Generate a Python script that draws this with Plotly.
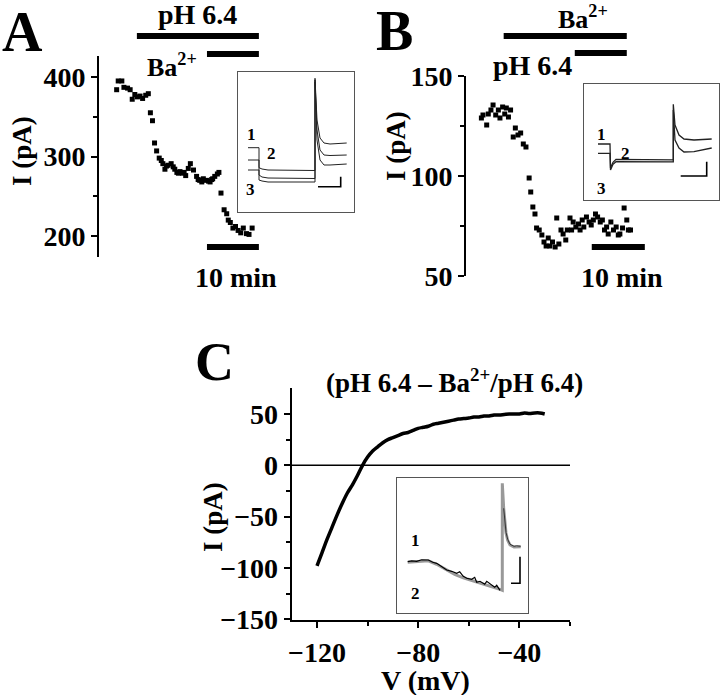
import plotly.graph_objects as go

W, H = 720, 695
FONT = "Liberation Serif"

# ---- panel A: time course, current at pH 6.4 then Ba2+ ----
a_t = [0.5, 0.8, 1.5, 1.9, 2.6, 3.1, 3.5, 4.0, 4.5, 5.0, 5.5, 6.1, 6.6, 7.0, 7.4, 7.8, 8.2, 8.7, 9.1, 9.4,
       9.8, 10.1, 10.4, 11.0, 11.4, 11.7, 12.1, 12.4, 12.7, 13.2, 13.5, 13.8, 14.3, 14.7, 15.3, 15.9, 16.2, 16.5, 16.9, 17.2,
       17.8, 18.2, 18.5, 18.8, 19.0, 19.4, 19.9, 20.2, 20.6, 21.2, 21.7, 22.0, 22.4, 22.9, 23.4, 23.9, 24.4, 24.9, 25.5, 26.0,
       26.6]
a_i = [384, 395, 395, 387, 386, 384, 372, 378, 375, 376, 373, 377, 379, 355, 345, 317, 307, 298, 295, 291,
       284, 288, 289, 291, 287, 284, 280, 279, 281, 279, 280, 276, 285, 291, 283, 275, 271, 270, 268, 272,
       270, 269, 268, 271, 272, 275, 278, 280, 254, 233, 228, 220, 217, 210, 212, 207, 204, 210, 203, 202,
       210]
a_ph = [4.4, 27.9]     # pH 6.4 application (min)
a_ba = [17.9, 27.9]    # Ba2+ application (min)
a_scale = [17.9, 27.9]  # 10 min

# ---- panel B: Ba2+ first, then pH 6.4 ----
b_t = [0.1, 0.4, 1.1, 1.4, 1.9, 2.3, 2.8, 3.3, 3.6, 4.1, 4.5, 4.8, 5.2, 5.6, 6.1, 6.5, 7.0, 7.5, 8.0, 8.5,
       9.1, 9.4, 9.8, 10.2, 10.5, 11.0, 11.5, 11.9, 12.3, 12.7, 13.0, 13.5, 14.0, 14.3, 14.7, 15.1, 15.5, 16.0, 16.3, 16.8,
       17.1, 17.4, 17.9, 18.4, 18.7, 19.1, 19.4, 19.9, 20.4, 20.8, 21.2, 21.6, 22.0, 22.5, 22.9, 23.3, 23.7, 24.0, 24.5, 25.0,
       25.5, 25.9, 26.2, 26.7, 27.0, 27.5, 27.8, 28.2]
b_i = [129, 130.5, 125.5, 131, 133, 135.5, 130.5, 133, 129, 134.5, 131, 134, 129.5, 133, 119.5, 124, 120.5, 121.5, 116, 114.5,
       99, 92, 84.5, 81, 74, 73, 70.5, 67, 65, 69, 65, 67, 64.5, 79, 66, 73, 71, 68, 73, 79,
       73, 77, 74.5, 76, 73, 78, 74.5, 79.5, 77, 75.5, 78, 81, 79.5, 77, 78, 73, 74.5, 71, 77, 73,
       74.5, 70.5, 71, 74, 84, 78, 73, 73]
b_ba = [4.3, 27.5]
b_ph = [17.7, 27.5]
b_scale = [20.9, 30.9]

# ---- panel C: difference I-V (pH 6.4 - Ba2+/pH 6.4) ----
c_v = [-120, -118, -116, -114, -112, -110, -108, -106, -104, -102, -100, -98, -96, -94, -92, -90,
       -88, -86, -84, -82, -80, -78, -76, -74, -72, -70, -68, -66, -64, -62, -60, -58,
       -56, -54, -52, -50, -48, -46, -44, -42, -40, -38, -36, -34, -32, -30]
c_i = [-98, -85, -72, -60, -48, -37, -27, -19, -10, 0, 8, 14, 18, 22, 25, 27,
       29, 31, 32, 34, 36, 37, 38, 40, 41, 42, 43, 44, 45, 45.5, 46, 47,
       47, 48, 48, 49, 49, 49.5, 50, 50, 50, 51, 50.5, 51, 51, 50]

# ---- inset traces (arbitrary units) ----
ia_x = [10, 21, 21, 24, 30, 77, 77, 79, 82, 86, 92, 108.7]
ia_1 = [-75.7, -75.7, -95.7, -97, -98, -98.5, -6.3, -48, -66, -71, -72, -71]
ia_2 = [-88, -88, -103, -105, -106, -106.5, -8, -58, -78, -83, -83.5, -83]
ia_3 = [-98, -98, -108, -109, -110, -110, -10, -68, -88, -93, -93, -92]
ia_bar_x = [80, 102.7, 102.7]
ia_bar_y = [-114.7, -114.7, -104.7]

ib_x = [14, 26, 26.5, 29, 32, 60, 89.3, 89.3, 91, 95, 100, 110, 127.7]
ib_1 = [-59.7, -59.7, -83.7, -78, -75, -75, -75.5, -20, -40.7, -50.7, -54.7, -55.7, -54.7]
ib_2 = [-69, -69, -85.7, -80, -77.4, -77.4, -77.6, -25.7, -55.7, -63.7, -67.7, -67.4, -63.7]
ib_bar_x = [96.7, 122.7, 122.7]
ib_bar_y = [-91.7, -91.7, -77.4]

ic_gx = [11, 20, 31.6, 40, 50, 58, 66.6, 75, 83.3, 93, 103.3, 105.6, 105.6, 107, 109.3, 111, 113.3, 117.3, 124]
ic_gy = [-84, -83.5, -82.5, -86, -92, -96, -99.5, -102, -105, -108, -111, -112, -5, -30, -54.7, -62, -66.7, -68.7, -68.4]
ic_kx = [11, 15, 20, 25, 31.6, 36, 40, 45, 50, 55, 60, 63, 66.6, 70, 75, 78, 80, 83.3, 88, 90, 93, 98, 100, 103.3]
ic_ky = [-83.4, -82.5, -83, -81.5, -81.7, -84, -85, -88, -91.7, -93, -95, -93.5, -98, -100, -101, -99, -104, -103, -106, -103,
         -105, -109, -107, -112]
ic_tx = [107, 109.3, 111, 113.3, 117.3, 120, 124]
ic_ty = [-30, -54, -61, -66, -68, -67.5, -68]
ic_bar_x = [114.3, 123.3, 123.3]
ic_bar_y = [-105, -105, -78.4]


def xd(x0, x1):
    return [x0 / W, x1 / W]


def yd(top, bottom):
    return [1 - bottom / H, 1 - top / H]


def px(x):
    return x / W


def py(y):
    return 1 - y / H


tick_font = dict(family=FONT, size=28, color="black", weight="bold")

fig = go.Figure()
sq = dict(symbol="square", size=5, color="black", line=dict(width=0))
fig.add_trace(go.Scatter(x=a_t, y=a_i, mode="markers", marker=sq, xaxis="x", yaxis="y"))
fig.add_trace(go.Scatter(x=b_t, y=b_i, mode="markers", marker=sq, xaxis="x2", yaxis="y2"))
fig.add_trace(go.Scatter(x=c_v, y=c_i, mode="lines", line=dict(color="black", width=3.5, shape="spline"),
                         xaxis="x3", yaxis="y3"))

thin = dict(color="#222", width=1)
for tr in [ia_1, ia_2, ia_3]:
    fig.add_trace(go.Scatter(x=ia_x, y=tr, mode="lines", line=thin, xaxis="x4", yaxis="y4"))
fig.add_trace(go.Scatter(x=ia_bar_x, y=ia_bar_y, mode="lines", line=dict(color="black", width=1.6), xaxis="x4", yaxis="y4"))
for tr in [ib_1, ib_2]:
    fig.add_trace(go.Scatter(x=ib_x, y=tr, mode="lines", line=dict(color="#222", width=1.3), xaxis="x5", yaxis="y5"))
fig.add_trace(go.Scatter(x=ib_bar_x, y=ib_bar_y, mode="lines", line=dict(color="black", width=1.6), xaxis="x5", yaxis="y5"))
fig.add_trace(go.Scatter(x=ic_gx, y=ic_gy, mode="lines", line=dict(color="#999", width=3), xaxis="x6", yaxis="y6"))
fig.add_trace(go.Scatter(x=ic_kx, y=ic_ky, mode="lines", line=dict(color="black", width=1.2), xaxis="x6", yaxis="y6"))
fig.add_trace(go.Scatter(x=ic_tx, y=ic_ty, mode="lines", line=dict(color="#333", width=1), xaxis="x6", yaxis="y6"))
fig.add_trace(go.Scatter(x=ic_bar_x, y=ic_bar_y, mode="lines", line=dict(color="black", width=1.6), xaxis="x6", yaxis="y6"))

yax = dict(showline=True, linecolor="black", linewidth=2, ticks="outside", ticklen=6, tickwidth=2,
           tickcolor="black", showgrid=False, zeroline=False, tickfont=tick_font, automargin=False)
inset = dict(showline=True, mirror=True, linecolor="#555", linewidth=1.2, showticklabels=False,
             ticks="", showgrid=False, zeroline=False, automargin=False)

fig.update_layout(
    template="none",
    width=W, height=H, margin=dict(l=0, r=0, t=0, b=0, pad=0),
    paper_bgcolor="white", plot_bgcolor="rgba(0,0,0,0)", showlegend=False,
    xaxis=dict(domain=xd(99, 262), range=[-2.9, 28.5], visible=False),
    yaxis=dict(domain=yd(56, 257), range=[173.6, 426.4], anchor="x", tickvals=[200, 300, 400],
               minor=dict(tickvals=[250, 350], ticks="outside", ticklen=4, tickwidth=2), **yax),
    xaxis2=dict(domain=xd(466, 648), range=[-2.8, 31.5], visible=False, anchor="y2"),
    yaxis2=dict(domain=yd(76, 276), range=[50, 150], anchor="x2", tickvals=[50, 100, 150],
                minor=dict(tickvals=[75, 125], ticks="outside", ticklen=4, tickwidth=2), **yax),
    xaxis3=dict(domain=xd(291.7, 570), range=[-130, -20], anchor="y3", tickvals=[-120, -80, -40],
                minor=dict(tickvals=[-100, -60, -20], ticks="outside", ticklen=4, tickwidth=2), **yax),
    yaxis3=dict(domain=yd(388, 620), range=[-150.7, 75.3], anchor="x3", tickvals=[-150, -100, -50, 0, 50],
                minor=dict(tickvals=[-125, -75, -25, 25], ticks="outside", ticklen=4, tickwidth=2), **yax),
    xaxis4=dict(domain=xd(238, 354), range=[0, 116], anchor="y4", **inset),
    yaxis4=dict(domain=yd(72, 212), range=[-140, 0], anchor="x4", **inset),
    xaxis5=dict(domain=xd(584, 719), range=[0, 135], anchor="y5", **inset),
    yaxis5=dict(domain=yd(84.3, 200), range=[-115.7, 0], anchor="x5", **inset),
    xaxis6=dict(domain=xd(396.7, 528.3), range=[0, 131.6], anchor="y6", **inset),
    yaxis6=dict(domain=yd(478.3, 613.3), range=[-135, 0], anchor="x6", **inset),
)

# zero line in panel C
fig.add_shape(type="line", xref="x3 domain", yref="y3", x0=0, x1=1, y0=0, y1=0,
              line=dict(color="black", width=1.6))

# application bars and time scale bars (in minutes)
bars = [("x", a_ph, 36), ("x", a_ba, 54), ("x", a_scale, 247),
        ("x2", b_ba, 36), ("x2", b_ph, 53), ("x2", b_scale, 247)]
for xr, span, ypix in bars:
    fig.add_shape(type="line", xref=xr, yref="paper", x0=span[0], x1=span[1], y0=py(ypix), y1=py(ypix),
                  line=dict(color="black", width=6))


def txt(x, y, s, size=28, angle=0, xref="paper", yref="paper"):
    if xref == "paper":
        x, y = px(x), py(y)
    fig.add_annotation(x=x, y=y, xref=xref, yref=yref, text=s, showarrow=False, textangle=angle,
                       xanchor="center", yanchor="middle",
                       font=dict(family=FONT, size=size, color="black", weight="bold"))


txt(22, 32, "A", 56)
txt(394, 31, "B", 56)
txt(214, 362, "C", 54)
txt(197, 15, "pH 6.4")
txt(172, 66, "Ba<sup>2+</sup>", 26)
txt(236, 277, "10 min")
txt(583, 17, "Ba<sup>2+</sup>", 26)
txt(532, 66, "pH 6.4")
txt(622, 277, "10 min")
txt(22, 151, "I (pA)", 27, -90)
txt(396, 146, "I (pA)", 27, -90)
txt(213, 517, "I (pA)", 27, -90)
txt(425, 680, "V (mV)", 28)
txt(454, 381, "(pH 6.4 – Ba<sup>2+</sup>/pH 6.4)", 27)

for lab, x, y in [("1", 13.7, -63), ("2", 33.7, -82), ("3", 12.7, -118)]:
    txt(x, y, lab, 17, xref="x4", yref="y4")
for lab, x, y in [("1", 17.7, -50.7), ("2", 41, -69), ("3", 17.7, -104)]:
    txt(x, y, lab, 17, xref="x5", yref="y5")
for lab, x, y in [("1", 18.3, -61.7), ("2", 18.3, -115)]:
    txt(x, y, lab, 17, xref="x6", yref="y6")

fig.write_html("out.html", config={"displayModeBar": False},
               post_script="document.body.style.margin='0';document.body.style.overflow='hidden';")
